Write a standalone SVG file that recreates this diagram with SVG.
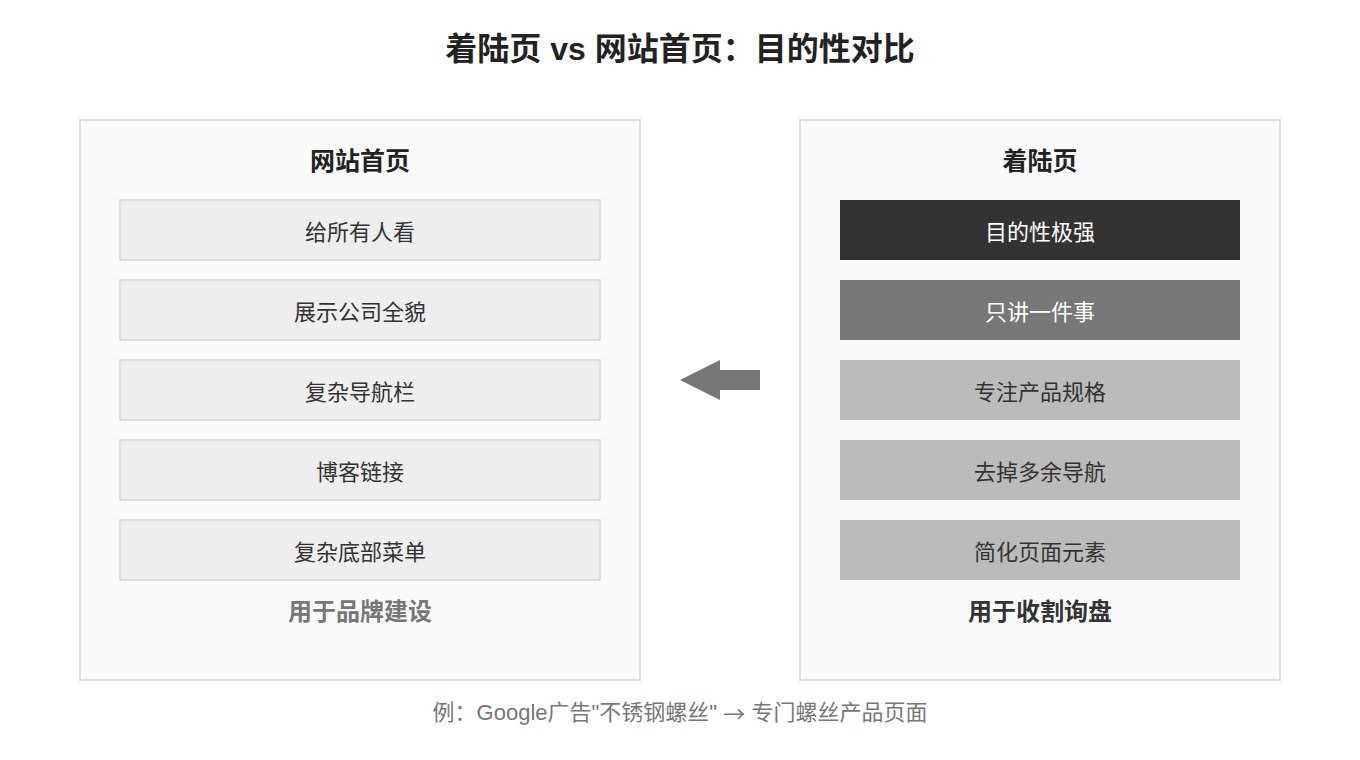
<svg xmlns="http://www.w3.org/2000/svg" width="1360" height="760" viewBox="0 0 1360 760">
<style>
text{font-family:"Liberation Sans","Noto Sans CJK SC",sans-serif;text-anchor:middle;dominant-baseline:central}
.title{font-size:32px;font-weight:bold;fill:#222}
.panel{fill:#fafafa;stroke:#e0e0e0;stroke-width:2}
.ptitle{font-size:25px;font-weight:bold;fill:#222}
.lbox{fill:#eeeeee;stroke:#e0e0e0;stroke-width:2}
.item{font-size:22px;fill:#333}
.witem{font-size:22px;fill:#ffffff}
.ditem{font-size:22px;fill:#333}
.foot{font-size:24px;font-weight:bold}
.note{font-size:22px;fill:#777}
.cjk{font-family:"Noto Sans CJK SC",sans-serif}
</style>
<rect width="1360" height="760" fill="#ffffff"/>
<text class="title" x="680" y="49">着陆页 vs 网站首页：目的性对比</text>
<g id="homepage">
<rect class="panel" x="80" y="120" width="560" height="560"/>
<text class="ptitle" x="360" y="161">网站首页</text>
<rect class="lbox" x="120" y="200" width="480" height="60"/>
<text class="item" x="360" y="232">给所有人看</text>
<rect class="lbox" x="120" y="280" width="480" height="60"/>
<text class="item" x="360" y="312">展示公司全貌</text>
<rect class="lbox" x="120" y="360" width="480" height="60"/>
<text class="item" x="360" y="392">复杂导航栏</text>
<rect class="lbox" x="120" y="440" width="480" height="60"/>
<text class="item" x="360" y="472">博客链接</text>
<rect class="lbox" x="120" y="520" width="480" height="60"/>
<text class="item" x="360" y="552">复杂底部菜单</text>
<text class="foot" x="360" y="611" fill="#777">用于品牌建设</text>
</g>
<g id="landing">
<rect class="panel" x="800" y="120" width="480" height="560"/>
<text class="ptitle" x="1040" y="161">着陆页</text>
<rect x="840" y="200" width="400" height="60" fill="#333333"/>
<text class="witem" x="1040" y="232">目的性极强</text>
<rect x="840" y="280" width="400" height="60" fill="#777777"/>
<text class="witem" x="1040" y="312">只讲一件事</text>
<rect x="840" y="360" width="400" height="60" fill="#bbbbbb"/>
<text class="ditem" x="1040" y="392">专注产品规格</text>
<rect x="840" y="440" width="400" height="60" fill="#bbbbbb"/>
<text class="ditem" x="1040" y="472">去掉多余导航</text>
<rect x="840" y="520" width="400" height="60" fill="#bbbbbb"/>
<text class="ditem" x="1040" y="552">简化页面元素</text>
<text class="foot" x="1040" y="611" fill="#333">用于收割询盘</text>
</g>
<g id="connectors">
<polygon points="680,380 720,360 720,370 760,370 760,390 720,390 720,400" fill="#777777"/>
</g>
<text class="note" x="680" y="712">例：Google广告"不锈钢螺丝" <tspan class="cjk">→</tspan> 专门螺丝产品页面</text>
</svg>
